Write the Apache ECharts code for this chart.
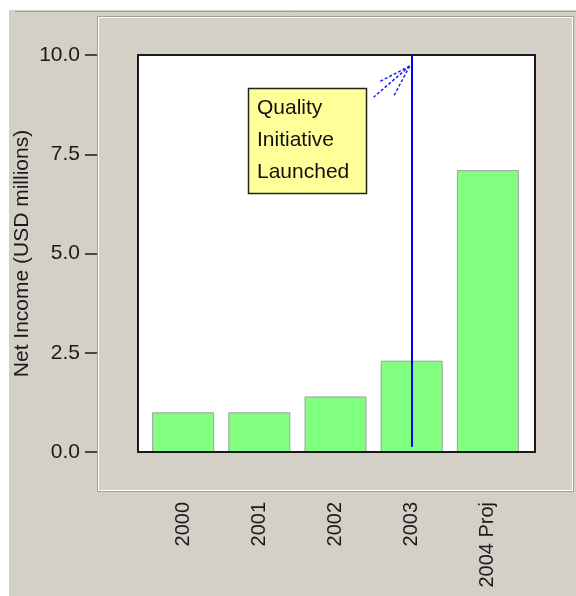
<!DOCTYPE html>
<html><head><meta charset="utf-8">
<script src="https://cdn.jsdelivr.net/npm/echarts@6/dist/echarts.min.js"></script>
<style>html,body{margin:0;padding:0;background:#fff}#c{width:576px;height:596px}</style>
</head><body><div id="c"></div>
<script>
const categories = ['2000', '2001', '2002', '2003', '2004 Proj'];
const netIncome = [1.0, 1.0, 1.4, 2.3, 7.1];
const yAxisName = 'Net Income (USD millions)';
const annotationLines = ['Quality', 'Initiative', 'Launched'];
const markerCategory = '2003';
const markerRange = [0.13, 10];

const FONT = '"Liberation Sans", Arial, sans-serif';
const chart = echarts.init(document.getElementById('c'), null, {renderer: 'canvas'});

const bgGraphics = [
  {id: 'outer', type: 'rect', z: -100, silent: true, shape: {x: 9, y: 10, width: 567, height: 586}, style: {fill: '#d4d0c8'}},
  {id: 'outerTop', type: 'line', z: -99, silent: true, shape: {x1: 15, y1: 11.5, x2: 576, y2: 11.5}, style: {stroke: '#a0a0a0', lineWidth: 1}},
  {id: 'panel', type: 'rect', z: -98, silent: true, shape: {x: 97.5, y: 16.5, width: 476, height: 475}, style: {fill: '#d4d0c8', stroke: '#a0a0a0', lineWidth: 1}},
  {id: 'panelHi', type: 'rect', z: -97, silent: true, shape: {x: 98.5, y: 17.5, width: 474, height: 473}, style: {fill: 'none', stroke: '#ffffff', lineWidth: 1}},
  {id: 'plotBg', type: 'rect', z: -96, silent: true, shape: {x: 138, y: 55, width: 397, height: 397}, style: {fill: '#ffffff'}},
  {id: 'plotFrame', type: 'rect', z: 50, silent: true, shape: {x: 138, y: 55, width: 397, height: 397}, style: {fill: 'none', stroke: '#1a1a1a', lineWidth: 2}},
  {id: 'noteBox', type: 'rect', z: 60, silent: true, shape: {x: 248.5, y: 88.5, width: 118, height: 105}, style: {fill: '#ffff99', stroke: '#222', lineWidth: 1.5}}
];
annotationLines.forEach((t, i) => {
  bgGraphics.push({id: 'note' + i, type: 'text', z: 61, silent: true, x: 257, y: 108 + i * 32,
    style: {text: t, font: '21px ' + FONT, fill: '#111', textVerticalAlign: 'middle', textAlign: 'left'}});
});

chart.setOption({
  animation: false,
  backgroundColor: '#ffffff',
  grid: {left: 145, right: 50, top: 55, bottom: 144, containLabel: false},
  xAxis: {
    type: 'category', data: categories,
    axisLine: {show: false}, axisTick: {show: false}, splitLine: {show: false},
    axisLabel: {rotate: 90, fontSize: 20, color: '#1a1a1a', margin: 50, fontFamily: FONT, interval: 0}
  },
  yAxis: {
    type: 'value', min: 0, max: 10, interval: 2.5, offset: 48,
    axisLine: {show: false},
    axisTick: {show: true, length: 12, lineStyle: {color: '#1a1a1a', width: 1.5}},
    axisLabel: {fontSize: 21, color: '#1a1a1a', margin: 17, fontFamily: FONT, formatter: v => v.toFixed(1)},
    splitLine: {show: false},
    name: yAxisName, nameLocation: 'middle', nameRotate: 90, nameGap: 64, nameMoveOverlap: false,
    nameTextStyle: {fontSize: 21, color: '#1a1a1a', fontFamily: FONT}
  },
  series: [{
    type: 'bar', data: netIncome, barWidth: 62,
    itemStyle: {color: '#80ff80', borderColor: '#a0a0a0', borderWidth: 1},
    markLine: {
      silent: true, symbol: ['none', 'none'], animation: false,
      label: {show: false},
      lineStyle: {color: '#0000ff', width: 2, type: 'solid'},
      data: [[{coord: [markerCategory, markerRange[0]]}, {coord: [markerCategory, markerRange[1]]}]]
    }
  }],
  graphic: bgGraphics
});

// fan-like arrowhead near the top of the marker line
const tip = chart.convertToPixel({gridIndex: 0}, [markerCategory, 9.72]);
const fanEnds = [[-36, 31], [-31, 16], [-16, 30]];
const fan = fanEnds.map((d, i) => ({
  id: 'fan' + i, type: 'line', z: 70, silent: true,
  shape: {x1: tip[0] - 2, y1: tip[1], x2: tip[0] - 2 + d[0], y2: tip[1] + d[1]},
  style: {stroke: '#2020ff', lineWidth: 1.5, lineDash: [3, 2]}
}));
chart.setOption({graphic: bgGraphics.concat(fan)});
</script></body></html>
